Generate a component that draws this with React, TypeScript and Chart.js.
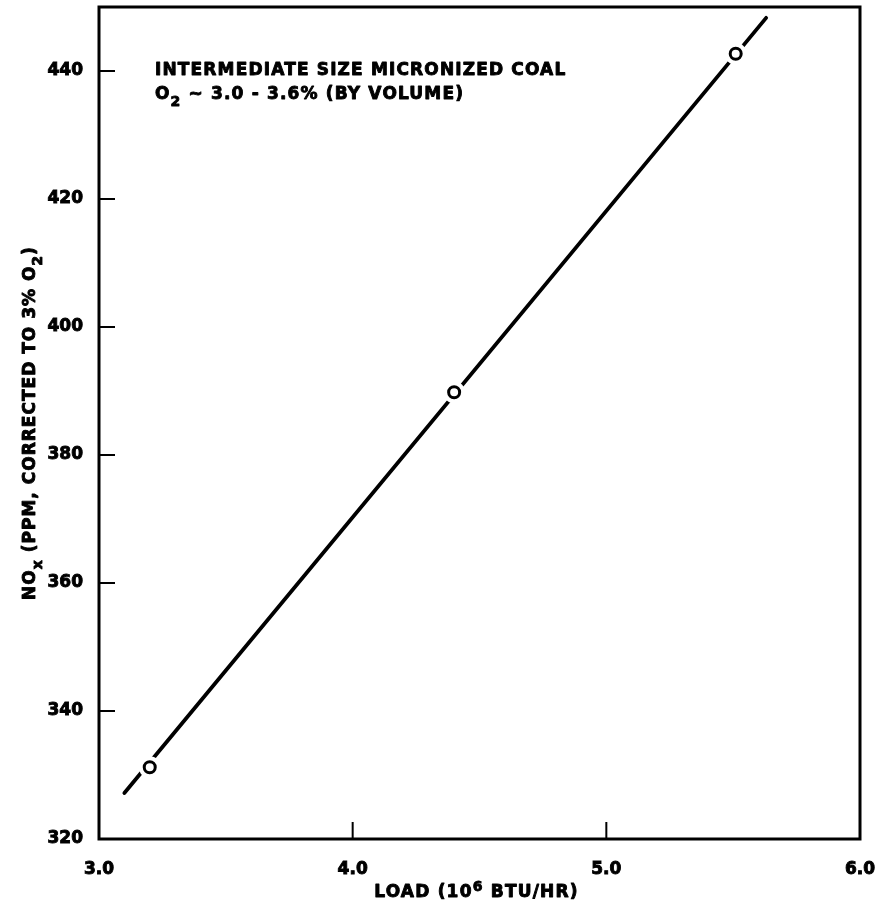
import React, { useEffect, useRef } from "react";
import { Chart, registerables } from "chart.js";

Chart.register(...registerables);

// ---- data ----
const loads = [3.2, 4.4, 5.51];
const noxValues = [331.2, 389.8, 442.7];
const fitLineX = [3.1, 5.63];
const fitLineY = [327.2, 448.3];
const xTickValues = [3.0, 4.0, 5.0, 6.0];
const yTickValues = [320, 340, 360, 380, 400, 420, 440];
const X_MIN = 3.0;
const X_MAX = 6.0;
const Y_MIN = 320;
const Y_MAX = 450;

const annotationLine1 = [{ t: "INTERMEDIATE SIZE MICRONIZED COAL" }];
const annotationLine2 = [
  { t: "O" },
  { t: "2", sub: true },
  { t: " ~ 3.0 - 3.6% (BY VOLUME)" },
];
const xTitle = [{ t: "LOAD (10" }, { t: "6", sup: true }, { t: " BTU/HR)" }];
const yTitle = [
  { t: "NO" },
  { t: "x", sub: true },
  { t: " (PPM, CORRECTED TO 3% O" },
  { t: "2", sub: true },
  { t: ")" },
];

const FONT = "'DejaVu Sans', 'Liberation Sans', sans-serif";

type Part = { t: string; sub?: boolean; sup?: boolean };

function partFont(p: Part, size: number) {
  const s = p.sub || p.sup ? Math.round(size * 0.85) : size;
  return `bold ${s}px ${FONT}`;
}

function measureRich(ctx: CanvasRenderingContext2D, parts: Part[], size: number) {
  let w = 0;
  for (const p of parts) {
    ctx.font = partFont(p, size);
    w += ctx.measureText(p.t).width;
  }
  return w;
}

function drawRich(
  ctx: CanvasRenderingContext2D,
  parts: Part[],
  x: number,
  y: number,
  size: number,
  align: "left" | "center",
  spacing: number
) {
  (ctx as any).letterSpacing = `${spacing}px`;
  const total = measureRich(ctx, parts, size);
  let cx = align === "center" ? x - total / 2 : x;
  ctx.textAlign = "left";
  ctx.textBaseline = "alphabetic";
  ctx.lineWidth = 0.9;
  ctx.lineJoin = "round";
  for (const p of parts) {
    ctx.font = partFont(p, size);
    const dy = p.sub ? size * 0.42 : p.sup ? -size * 0.38 : 0;
    ctx.fillText(p.t, cx, y + dy);
    ctx.strokeText(p.t, cx, y + dy);
    cx += ctx.measureText(p.t).width;
  }
  (ctx as any).letterSpacing = "0px";
}

const framePlugin = {
  id: "frameAndLabels",
  afterDraw(chart: any) {
    const { ctx, chartArea: a, scales } = chart;
    ctx.save();
    ctx.strokeStyle = "#000";
    ctx.fillStyle = "#000";
    ctx.lineWidth = 3;
    ctx.strokeRect(a.left, a.top, a.right - a.left, a.bottom - a.top);

    // inside ticks
    ctx.lineWidth = 2;
    ctx.beginPath();
    for (const v of yTickValues) {
      if (v === Y_MIN) continue;
      const y = scales.y.getPixelForValue(v);
      ctx.moveTo(a.left, y);
      ctx.lineTo(a.left + 16, y);
    }
    for (const v of xTickValues) {
      if (v === X_MIN || v === X_MAX) continue;
      const x = scales.x.getPixelForValue(v);
      ctx.moveTo(x, a.bottom);
      ctx.lineTo(x, a.bottom - 17);
    }
    ctx.stroke();

    // annotation
    drawRich(ctx, annotationLine1, a.left + 56, 75, 17, "left", 1.15);
    drawRich(ctx, annotationLine2, a.left + 56, 99, 17, "left", 1.15);

    // x title
    drawRich(ctx, xTitle, (a.left + a.right) / 2 - 3, 897, 17, "center", 1.2);

    // y title
    ctx.save();
    ctx.translate(35, (a.top + a.bottom) / 2);
    ctx.rotate(-Math.PI / 2);
    drawRich(ctx, yTitle, 0, 0, 17, "center", 1.0);
    ctx.restore();

    ctx.restore();
  },
};

export default function App() {
  const ref = useRef<HTMLCanvasElement | null>(null);

  useEffect(() => {
    if (!ref.current) return;
    const tickFont = { family: FONT, size: 17, weight: "bold" as const };
    const chart = new Chart(ref.current, {
      type: "scatter",
      data: {
        datasets: [
          {
            label: "points",
            data: loads.map((x, i) => ({ x, y: noxValues[i] })),
            pointRadius: 5.5,
            pointBorderWidth: 3,
            pointBorderColor: "#000",
            pointBackgroundColor: "#fff",
            showLine: false,
            order: 1,
          },
          {
            label: "halo",
            data: loads.map((x, i) => ({ x, y: noxValues[i] })),
            pointRadius: 11,
            pointBorderWidth: 0,
            pointBorderColor: "#fff",
            pointBackgroundColor: "#fff",
            showLine: false,
            order: 2,
          },
          {
            label: "fit",
            data: fitLineX.map((x, i) => ({ x, y: fitLineY[i] })),
            showLine: true,
            borderColor: "#000",
            borderWidth: 3.8,
            pointRadius: 0,
            borderCapStyle: "round",
            order: 3,
          },
        ],
      },
      options: {
        animation: false,
        responsive: false,
        maintainAspectRatio: false,
        layout: { autoPadding: false, padding: { left: 0, top: 7, right: 24, bottom: 0 } },
        plugins: {
          legend: { display: false },
          tooltip: { enabled: false },
          title: { display: false },
        },
        scales: {
          x: {
            type: "linear",
            min: X_MIN,
            max: X_MAX,
            grid: { display: false },
            border: { display: false },
            afterBuildTicks: (s: any) => {
              s.ticks = xTickValues.map((v) => ({ value: v }));
            },
            ticks: {
              color: "#000",
              font: tickFont,
              padding: 12,
              maxRotation: 0,
              textStrokeColor: "#000",
              textStrokeWidth: 0.9,
              callback: (v: any) => Number(v).toFixed(1),
            },
            afterFit: (s: any) => {
              s.height = 67;
              s.paddingLeft = 0;
              s.paddingRight = 0;
            },
          },
          y: {
            type: "linear",
            min: Y_MIN,
            max: Y_MAX,
            grid: { display: false },
            border: { display: false },
            afterBuildTicks: (s: any) => {
              s.ticks = yTickValues.map((v) => ({ value: v }));
            },
            ticks: {
              color: "#000",
              font: tickFont,
              padding: 8,
              textStrokeColor: "#000",
              textStrokeWidth: 0.9,
              callback: (v: any) => String(v),
            },
            afterFit: (s: any) => {
              s.width = 99;
              s.paddingTop = 0;
              s.paddingBottom = 0;
            },
          },
        },
      },
      plugins: [framePlugin],
    });
    return () => chart.destroy();
  }, []);

  return (
    <div style={{ position: "fixed", left: 0, top: 0, width: 884, height: 906, background: "#fff" }}>
      <canvas ref={ref} width={884} height={906} style={{ width: 884, height: 906 }} />
    </div>
  );
}
